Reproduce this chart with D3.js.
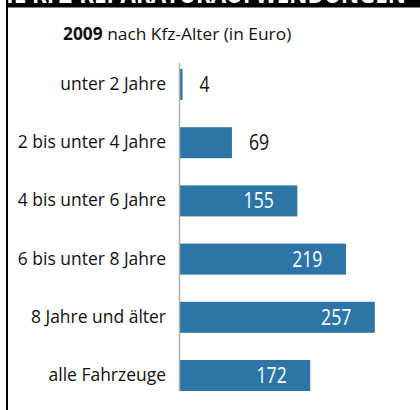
<!DOCTYPE html>
<html>
<head>
<meta charset="utf-8">
<script src="https://cdn.jsdelivr.net/npm/d3@7"></script>
<style>
  html, body { margin: 0; padding: 0; background: #fff; }
  svg { display: block; }
  text { font-family: "Open Sans", "Noto Sans", sans-serif; }
</style>
</head>
<body>
<svg id="chart" width="420" height="410"></svg>
<script>
// Repair costs per vehicle in 2009, by vehicle age (Euro)
const categories = ["unter 2 Jahre", "2 bis unter 4 Jahre", "4 bis unter 6 Jahre",
                    "6 bis unter 8 Jahre", "8 Jahre und älter", "alle Fahrzeuge"];
const values = [4, 69, 155, 219, 257, 172];
const titleYear = "2009";
const titleRest = " nach Kfz-Alter (in Euro)";
const headline = "DURCHSCHNITTLICHE KFZ-REPARATURAUFWENDUNGEN";

const svg = d3.select("#chart");
const barColor = "#2e75a7";
const labelStretch = 0.945;  // horizontal squeeze for a condensed look
const valueStretch = 0.84;

const x = d3.scaleLinear().domain([0, 300]).range([179.5, 407.5]);
const y = d3.scaleBand().domain(categories).range([55.4, 404.6])
  .paddingInner(0.467).paddingOuter(0.2335);

// headline band at the top, its text running off the top edge
svg.append("rect").attr("x", 6).attr("y", 0).attr("width", 414).attr("height", 7.5).attr("fill", "#000");
svg.append("text")
  .attr("transform", `translate(406,2.5) scale(0.86,1)`)
  .attr("text-anchor", "end")
  .attr("fill", "#fff")
  .style("font-weight", 700)
  .style("font-size", "26px")
  .text(headline);
svg.append("rect").attr("x", 6).attr("y", 0).attr("width", 2).attr("height", 410).attr("fill", "#000");

// subtitle
const t = svg.append("text")
  .attr("transform", `translate(63,40) scale(1.02,1)`)
  .style("font-size", "17px")
  .attr("fill", "#111");
t.append("tspan").style("font-weight", 700).text(titleYear);
t.append("tspan").text(titleRest);

// bars
svg.append("g").selectAll("rect").data(values).join("rect")
  .attr("x", x(0))
  .attr("y", (d, i) => y(categories[i]))
  .attr("width", d => x(d) - x(0))
  .attr("height", y.bandwidth())
  .attr("fill", barColor);

// category axis
const axis = svg.append("g")
  .attr("transform", `translate(${x(0)},0)`)
  .call(d3.axisLeft(y).tickSize(0).tickPadding(13.5));
axis.select(".domain").remove();
axis.selectAll("text")
  .attr("fill", "#111")
  .style("font-size", "18.5px")
  .style("font-family", '"Open Sans", "Noto Sans", sans-serif')
  .attr("dy", null)
  .attr("x", null)
  .attr("transform", `translate(-13.5,5.5) scale(${labelStretch},1)`);

// vertical baseline
svg.append("line")
  .attr("x1", x(0)).attr("x2", x(0))
  .attr("y1", y(categories[0]) - 6)
  .attr("y2", y(categories[categories.length - 1]) + y.bandwidth())
  .attr("stroke", "#b5b0a8").attr("stroke-width", 1.5);

// value labels: inside for long bars, outside for short ones
svg.append("g").selectAll("text").data(values).join("text")
  .attr("transform", (d, i) => {
    const cy = y(categories[i]) + y.bandwidth() / 2 + 7.5;
    const px = d < 100 ? x(d) + 17 : x(d) - 23.5;
    return `translate(${px},${cy}) scale(${valueStretch},1)`;
  })
  .attr("text-anchor", d => d < 100 ? "start" : "end")
  .attr("fill", d => d < 100 ? "#111" : "#fff")
  .style("font-size", "21px")
  .text(d => d);
</script>
</body>
</html>
